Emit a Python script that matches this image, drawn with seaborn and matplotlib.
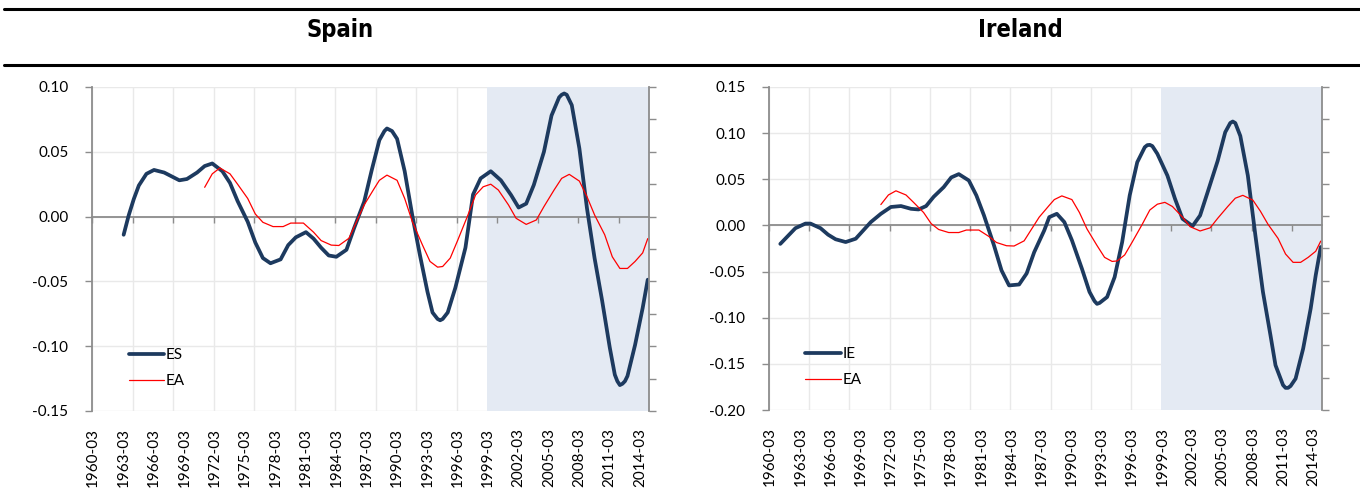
"""
Business cycle components for Spain and Ireland against the euro area.
"""
import matplotlib

matplotlib.use("Agg")
import matplotlib.pyplot as plt
import matplotlib.ticker as ticker
from matplotlib.lines import Line2D
import numpy as np
import pandas as pd
import seaborn as sns

# Quarterly category axis, 1960-03 ... 2014-12
QUARTERS = [f"{y}-{m:02d}" for y in range(1960, 2015) for m in (3, 6, 9, 12)]
TICK_LABELS = QUARTERS[::12]
SHADE_FROM = "1999-03"

# Values: quarter index (0 = 1960-03) and cycle value
es_q = [12, 14, 16, 18, 21, 24, 28, 31, 34, 37, 41, 44, 47, 51, 54, 57, 61,
        64, 67, 70, 74, 77, 80, 84, 87, 90, 93, 96, 100, 103, 107, 110, 113,
        115, 116, 118, 120, 123, 126, 129, 132, 134, 136, 137, 138, 140, 143,
        147, 150, 153, 157, 161, 165, 168, 171, 174, 178, 181, 184, 185, 186,
        187, 189, 192, 195, 198, 201, 204, 206, 207, 208, 209, 210, 211, 214,
        217, 219]
es_v = [-0.014, 0.001, 0.0135, 0.024, 0.033, 0.036, 0.034, 0.031, 0.028,
        0.029, 0.034, 0.039, 0.041, 0.035, 0.026, 0.012, -0.004, -0.020,
        -0.032, -0.036, -0.033, -0.022, -0.016, -0.012, -0.017, -0.024,
        -0.030, -0.031, -0.0256, -0.009, 0.0115, 0.036, 0.059, 0.066, 0.068,
        0.066, 0.060, 0.035, 0.001, -0.0295, -0.058, -0.074, -0.079, -0.080,
        -0.079, -0.074, -0.055, -0.024, 0.017, 0.0295, 0.035, 0.028, 0.0167,
        0.007, 0.010, 0.0244, 0.050, 0.078, 0.092, 0.094, 0.095, 0.094,
        0.086, 0.0526, 0.0064, -0.032, -0.065, -0.101, -0.122, -0.127,
        -0.130, -0.129, -0.127, -0.123, -0.099, -0.0705, -0.0487]

ie_q = [4, 7, 10, 14, 16, 20, 23, 26, 30, 34, 37, 40, 44, 48, 52, 56, 59, 62,
        65, 69, 72, 75, 79, 82, 85, 89, 92, 95, 99, 102, 105, 109, 111, 114,
        117, 120, 124, 127, 129, 130, 131, 134, 137, 140, 143, 146, 149, 150,
        151, 152, 154, 158, 161, 164, 168, 171, 174, 178, 181, 183, 184, 185,
        187, 190, 193, 196, 199, 201, 204, 205, 206, 207, 209, 212, 215, 217,
        219]
ie_v = [-0.020, -0.0115, -0.003, 0.002, 0.002, -0.003, -0.010, -0.015,
        -0.018, -0.0144, -0.0054, 0.0036, 0.0126, 0.020, 0.021, 0.018,
        0.0173, 0.021, 0.031, 0.0415, 0.052, 0.0556, 0.0487, 0.0325, 0.011,
        -0.0216, -0.0487, -0.065, -0.064, -0.052, -0.029, -0.0054, 0.009,
        0.0126, 0.0036, -0.016, -0.047, -0.072, -0.082, -0.085, -0.084,
        -0.0776, -0.056, -0.018, 0.0325, 0.0685, 0.0848, 0.087, 0.0873,
        0.086, 0.0776, 0.054, 0.029, 0.0072, -0.0007, 0.0108, 0.036, 0.070,
        0.101, 0.111, 0.1126, 0.111, 0.097, 0.054, -0.0108, -0.072, -0.119,
        -0.1515, -0.173, -0.176, -0.176, -0.174, -0.166, -0.1335, -0.090,
        -0.054, -0.0234]

ea_q = [44, 47, 50, 54, 57, 61, 64, 67, 71, 75, 78, 83, 87, 90, 94, 97, 101,
        104, 107, 111, 113, 116, 120, 123, 126, 130, 133, 136, 138, 141, 144,
        148, 151, 154, 157, 160, 164, 167, 171, 175, 178, 182, 185, 188, 192,
        195, 198, 202, 205, 208, 211, 214, 217, 219]
ea_v = [0.0226, 0.033, 0.0375, 0.033, 0.025, 0.014, 0.002, -0.0044, -0.0077,
        -0.0077, -0.005, -0.005, -0.012, -0.0185, -0.022, -0.0223, -0.0167,
        -0.0038, 0.009, 0.0218, 0.028, 0.032, 0.028, 0.014, -0.0038, -0.0218,
        -0.0346, -0.039, -0.0385, -0.032, -0.018, 0.0013, 0.0167, 0.023,
        0.025, 0.0205, 0.009, -0.0013, -0.006, -0.0026, 0.0077, 0.0205,
        0.0295, 0.0326, 0.0274, 0.0154, 0.0013, -0.014, -0.031, -0.040,
        -0.040, -0.0346, -0.028, -0.017]

es_ticks = [-0.15, -0.10, -0.05, 0.00, 0.05, 0.10]
ie_ticks = [-0.20, -0.15, -0.10, -0.05, 0.00, 0.05, 0.10, 0.15]

NAVY = "#1d3a5f"
RED = "#ff0000"
SHADE = "#e4eaf3"
GRID = "#e9e9e9"
AXIS = "#8c8c8c"

sns.set_style("white")
plt.rcParams["font.family"] = ["Lato", "DejaVu Sans"]
plt.rcParams["axes.unicode_minus"] = False
plt.rcParams["text.color"] = "black"
plt.rcParams["xtick.labelcolor"] = "black"
plt.rcParams["ytick.labelcolor"] = "black"


def plot_panel(ax, code, q, v, yticks):
    """
    Draw one country panel against the euro area cycle
    """
    n = len(QUARTERS)
    data = pd.DataFrame({"q": q, "value": v})
    ea = pd.DataFrame({"q": ea_q, "value": ea_v})

    ax.set_xlim(-0.5, n - 0.5)
    ax.set_ylim(yticks[0], yticks[-1])

    # shaded period (euro area membership)
    ax.axvspan(QUARTERS.index(SHADE_FROM) - 0.5, n - 0.5,
               color=SHADE, lw=0, zorder=1)

    sns.lineplot(data=data, x="q", y="value", ax=ax, color=NAVY, lw=2.7,
                 label=code, zorder=3, solid_joinstyle="round",
                 solid_capstyle="round")
    sns.lineplot(data=ea, x="q", y="value", ax=ax, color=RED, lw=0.9,
                 label="EA", zorder=3, solid_joinstyle="round")

    # x axis: labels every 3 years, gridlines every 16 quarters
    ax.set_xticks(range(0, n, 12))
    ax.set_xticklabels(TICK_LABELS, rotation=90)
    grid_pos = np.arange(-0.5, n, 16)
    ax.set_xticks(grid_pos, minor=True)
    ax.tick_params(axis="x", which="both", length=0, pad=12, labelsize=11)
    ax.xaxis.grid(True, which="minor", color=GRID, lw=1)

    ax.set_yticks(yticks)
    ax.yaxis.set_major_formatter(ticker.FormatStrFormatter("%.2f"))
    ax.tick_params(axis="y", length=5, width=1, color=AXIS, pad=12,
                   labelsize=11, left=True)
    ax.yaxis.grid(True, color=GRID, lw=1)
    ax.set_axisbelow(True)

    for side in ("top", "right", "bottom"):
        ax.spines[side].set_visible(False)
    ax.spines["left"].set_color(AXIS)
    ax.spines["left"].set_linewidth(1.3)

    ax.set_xlabel("")
    ax.set_ylabel("")

    # horizontal axis crossing at zero, with its tick marks
    zero = ax.secondary_xaxis(0, transform=ax.transData)
    zero.set_xticks(grid_pos)
    zero.tick_params(axis="x", direction="out", length=4, width=1,
                     color=AXIS, labelbottom=False)
    zero.spines["bottom"].set_color(AXIS)
    zero.spines["bottom"].set_linewidth(1.3)
    zero.set_zorder(2)

    # secondary axis on the right (unlabelled)
    twin = ax.twinx()
    twin.set_ylim(0, 1)
    twin.set_yticks(np.linspace(0, 1, 11))
    twin.tick_params(axis="y", direction="out", length=5, width=1,
                     color=AXIS, labelright=False)
    for side in ("top", "left", "bottom"):
        twin.spines[side].set_visible(False)
    twin.spines["right"].set_color(AXIS)
    twin.spines["right"].set_linewidth(1.3)

    ax.legend(loc="lower left", bbox_to_anchor=(0.066, 0.07), frameon=False,
              fontsize=11, handlelength=2.3, handletextpad=0.1,
              labelspacing=0.8, borderpad=0, borderaxespad=0)


fig = plt.figure(figsize=(13.6, 4.92), dpi=100)
ax_es = fig.add_axes([92 / 1360, 81 / 492, 557 / 1360, 324 / 492])
ax_ie = fig.add_axes([769 / 1360, 82 / 492, 553 / 1360, 323 / 492])

plot_panel(ax_es, "ES", es_q, es_v, es_ticks)
plot_panel(ax_ie, "IE", ie_q, ie_v, ie_ticks)

title_font = ["Liberation Sans Narrow", "DejaVu Sans"]
fig.text(0.25, 1 - 30 / 492, "Spain", ha="center", va="center",
         fontsize=17, fontweight="bold", fontstretch="condensed",
         family=title_font, color="black")
fig.text(0.75, 1 - 30 / 492, "Ireland", ha="center", va="center",
         fontsize=17, fontweight="bold", fontstretch="condensed",
         family=title_font, color="black")
for y in (1 - 9 / 492, 1 - 65 / 492):
    fig.add_artist(Line2D([4 / 1360, 1], [y, y], color="black", lw=2.2))

fig.savefig("out.png", dpi=100)
